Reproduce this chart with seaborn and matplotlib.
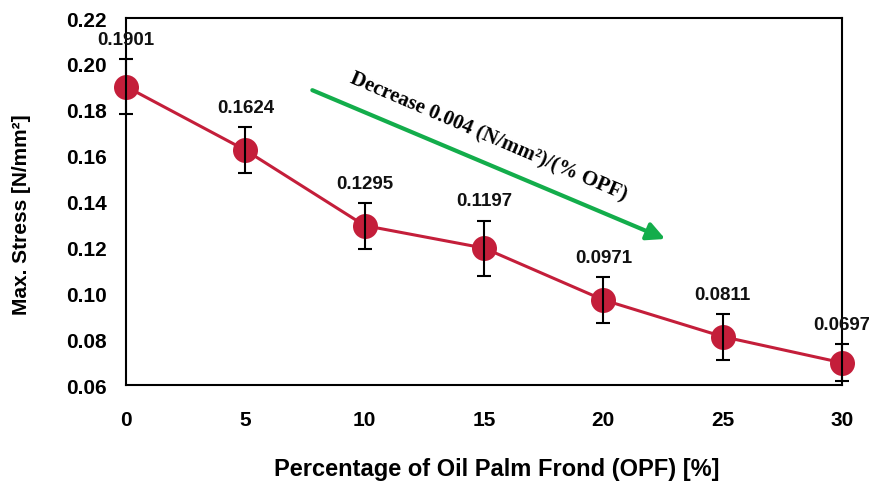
import matplotlib
matplotlib.use("Agg")
import matplotlib.pyplot as plt
import seaborn as sns
import pandas as pd

opf_percent = [0, 5, 10, 15, 20, 25, 30]
max_stress = [0.1901, 0.1624, 0.1295, 0.1197, 0.0971, 0.0811, 0.0697]
stress_err = [0.012, 0.010, 0.010, 0.012, 0.010, 0.010, 0.008]
value_labels = ["0.1901", "0.1624", "0.1295", "0.1197", "0.0971", "0.0811", "0.0697"]
x_ticks = [0, 5, 10, 15, 20, 25, 30]
y_ticks = [0.06, 0.08, 0.10, 0.12, 0.14, 0.16, 0.18, 0.20, 0.22]

sns.set_theme(style="white")
plt.rcParams['font.family'] = ['Liberation Sans', 'DejaVu Sans']
plt.rcParams['text.color'] = 'black'
plt.rcParams['axes.labelcolor'] = 'black'
plt.rcParams['xtick.color'] = 'black'
plt.rcParams['ytick.color'] = 'black'

df = pd.DataFrame({"opf": opf_percent, "stress": max_stress, "err": stress_err})

fig = plt.figure(figsize=(8.69, 4.89), dpi=100)
ax = fig.add_axes([126/869, 1-386/489, (842-126)/869, (386-19)/489])

red = "#C41E3A"
sns.lineplot(data=df, x="opf", y="stress", ax=ax, color=red, linewidth=2.2,
             marker="o", markersize=18, markeredgewidth=0, zorder=3, clip_on=False)
ax.errorbar(df["opf"], df["stress"], yerr=df["err"], fmt="none", ecolor="black",
            elinewidth=1.5, capsize=5, capthick=1.5, zorder=4, clip_on=False)

for x, y, e, lab in zip(opf_percent, max_stress, stress_err, value_labels):
    ax.annotate(lab, (x, y + e), xytext=(0, 8), textcoords="offset points",
                ha="center", va="bottom", fontsize=13.5, fontweight="bold",
                color="#111111", zorder=5, annotation_clip=False)

ax.annotate("", xy=(22.7, 0.1232), xytext=(7.7, 0.189),
            arrowprops=dict(arrowstyle="-|>,head_length=0.9,head_width=0.45",
                            color="#13AD4B", lw=3))
ax.text(15.2, 0.1685, "Decrease 0.004 (N/mm²)/(% OPF)", rotation=-23.2,
        rotation_mode="anchor", ha="center", va="center", fontsize=15,
        fontweight="bold", family=["Liberation Serif", "DejaVu Serif"], color="black")

ax.set_xlim(0, 30)
ax.set_ylim(0.06, 0.22)
ax.set_xticks(x_ticks)
ax.set_yticks(y_ticks)
ax.set_xticklabels([str(t) for t in x_ticks], fontsize=15, fontweight="bold")
ax.set_yticklabels([f"{t:.2f}" for t in y_ticks], fontsize=15, fontweight="bold")
ax.tick_params(axis="x", length=0, pad=18)
ax.tick_params(axis="y", length=0, pad=14)
ax.set_xlabel("Percentage of Oil Palm Frond (OPF) [%]", fontsize=17, fontweight="bold")
ax.set_ylabel("Max. Stress [N/mm²]", fontsize=15, fontweight="bold")
ax.xaxis.set_label_coords(0.518, -0.196)
ax.yaxis.set_label_coords(-0.133, 0.466)
for s in ax.spines.values():
    s.set_color("black")
    s.set_linewidth(1.5)
ax.grid(False)

fig.savefig("out.png", dpi=100)
